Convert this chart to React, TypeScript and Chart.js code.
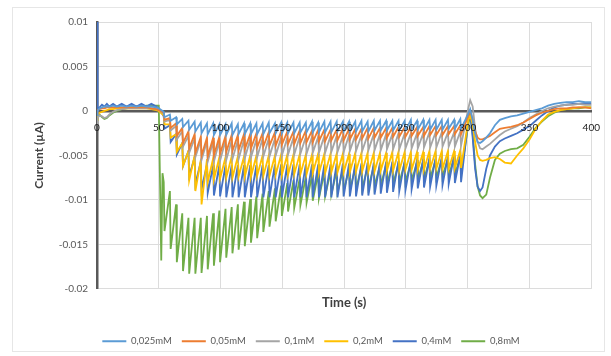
import React, { useEffect, useRef } from 'react';
import { Chart, registerables } from 'chart.js';

Chart.register(...registerables);

// ---- labels & styling constants ----
const seriesNames = ['0,025mM', '0,05mM', '0,1mM', '0,2mM', '0,4mM', '0,8mM'];
const seriesColors = ['#5B9BD5', '#ED7D31', '#A5A5A5', '#FFC000', '#4472C4', '#70AD47'];

const xTicks = [0, 50, 100, 150, 200, 250, 300, 350, 400];
const xTickLabels = ['0', '50', '100', '150', '200', '250', '300', '350', '400'];
const yTicks = [0.01, 0.005, 0, -0.005, -0.01, -0.015, -0.02];
const yTickLabels = ['0.01', '0.005', '0', '-0.005', '-0.01', '-0.015', '-0.02'];

// values below are in nA (1 nA = 0.001 µA)
const NA_TO_UA = 0.001;

// ---- 0 – 50 s (before the pulses) ----
const preTimes = [0, 0.5, 2, 4, 6, 8, 10, 13, 16, 20, 24, 28, 32, 36, 40, 44, 48, 50];
const pre025 = [-0.5, 0, 0.3, 0.4, 0.5, 0.5, 0.5, 0.6, 0.5, 0.6, 0.5, 0.6, 0.5, 0.6, 0.5, 0.5, 0.4, 0.3];
const pre05 = [-0.3, 0.1, 0.2, 0.3, 0.3, 0.4, 0.4, 0.4, 0.4, 0.4, 0.4, 0.4, 0.4, 0.4, 0.4, 0.3, 0.2, 0.1];
const pre1 = [-1.5, -0.8, -0.5, -0.6, -0.8, -0.7, -0.4, -0.1, 0.1, 0.2, 0.3, 0.3, 0.3, 0.3, 0.3, 0.3, 0.2, 0.1];
const pre2 = [-1.0, -0.4, -0.2, -0.1, 0, 0.1, 0.2, 0.2, 0.3, 0.3, 0.3, 0.3, 0.3, 0.3, 0.3, 0.2, 0.1, 0];
const pre4 = [10, 0, 0.4, 0.7, 0.5, 0.8, 0.5, 0.8, 0.5, 0.8, 0.5, 0.8, 0.5, 0.8, 0.5, 0.8, 0.5, 0.3];
const pre8 = [-1.0, -0.6, -0.4, -0.7, -0.9, -0.8, -0.5, -0.2, 0, 0.2, 0.3, 0.4, 0.5, 0.5, 0.6, 0.6, 0.6, 0.6];

// 0,8mM initial spike
const spike8Times = [52, 53];
const spike8 = [-16.8, -7.0];

// ---- pulse train (peak then trough of each tooth) ----
const toothTimes = [54, 59, 64, 69, 74, 79, 84, 89, 94, 99, 104, 109, 114, 119, 124, 129, 134, 139, 144, 149,
  154, 159, 164, 169, 174, 179, 184, 189, 194, 199, 204, 209, 214, 219, 224, 229, 234, 239, 244, 249,
  254, 259, 264, 269, 274, 279, 284, 289, 294];
const TOOTH_DROP = 0.6;

const high025 = [-0.1, -0.4, -0.7, -0.9, -1.1, -1.2, -1.3, -1.4, -1.4, -1.5, -1.5, -1.4, -1.5, -1.4, -1.4, -1.4, -1.4, -1.3, -1.4, -1.3,
  -1.3, -1.3, -1.3, -1.3, -1.2, -1.3, -1.2, -1.2, -1.2, -1.2, -1.2, -1.2, -1.1, -1.2, -1.1, -1.1, -1.1, -1.1, -1.1, -1.1,
  -1.0, -1.1, -1.0, -1.0, -1.0, -1.0, -1.0, -1.0, -0.9];
const low025 = [-0.7, -1.1, -1.5, -1.8, -2.1, -2.3, -2.5, -2.6, -2.7, -2.7, -2.7, -2.7, -2.6, -2.6, -2.6, -2.6, -2.6, -2.5, -2.5, -2.5,
  -2.5, -2.5, -2.4, -2.4, -2.4, -2.4, -2.4, -2.4, -2.3, -2.3, -2.3, -2.3, -2.3, -2.3, -2.2, -2.2, -2.2, -2.2, -2.2, -2.2,
  -2.1, -2.1, -2.1, -2.1, -2.1, -2.1, -2.0, -2.0, -2.0];

const high05 = [-0.2, -0.8, -1.4, -1.9, -2.3, -2.6, -2.9, -3.0, -3.0, -2.9, -2.8, -2.7, -2.7, -2.6, -2.6, -2.5, -2.5, -2.4, -2.4, -2.3,
  -2.3, -2.3, -2.2, -2.2, -2.2, -2.1, -2.1, -2.1, -2.1, -2.0, -2.0, -2.0, -2.0, -1.9, -1.9, -1.9, -1.9, -1.9, -1.8, -1.8,
  -1.8, -1.8, -1.8, -1.7, -1.7, -1.7, -1.7, -1.7, -1.6];
const low05 = [-1.0, -1.9, -2.8, -3.6, -4.2, -4.7, -5.0, -5.1, -5.0, -4.8, -4.6, -4.5, -4.4, -4.3, -4.2, -4.1, -4.0, -3.9, -3.9, -3.8,
  -3.7, -3.7, -3.6, -3.5, -3.5, -3.4, -3.4, -3.3, -3.3, -3.3, -3.2, -3.2, -3.1, -3.1, -3.0, -3.0, -3.0, -2.9, -2.9, -2.9,
  -2.8, -2.8, -2.8, -2.7, -2.7, -2.7, -2.6, -2.6, -2.6];

const high1 = [-0.3, -1.0, -1.7, -2.3, -2.8, -3.1, -3.3, -3.4, -3.4, -3.4, -3.3, -3.3, -3.3, -3.2, -3.2, -3.2, -3.1, -3.1, -3.1, -3.0,
  -3.0, -3.0, -2.9, -2.9, -2.9, -2.9, -2.8, -2.8, -2.8, -2.8, -2.7, -2.7, -2.7, -2.7, -2.6, -2.6, -2.6, -2.6, -2.5, -2.5,
  -2.5, -2.5, -2.5, -2.4, -2.4, -2.4, -2.4, -2.4, -2.3];
const low1 = [-1.2, -2.2, -3.2, -4.0, -4.7, -5.2, -5.5, -5.7, -5.7, -5.6, -5.5, -5.4, -5.4, -5.3, -5.2, -5.2, -5.1, -5.1, -5.0, -5.0,
  -4.9, -4.9, -4.8, -4.8, -4.7, -4.7, -4.7, -4.6, -4.6, -4.6, -4.5, -4.5, -4.5, -4.4, -4.4, -4.4, -4.3, -4.3, -4.3, -4.2,
  -4.2, -4.2, -4.1, -4.1, -4.1, -4.0, -4.0, -4.0, -3.9];

const high2 = [-0.5, -1.5, -2.6, -3.6, -4.5, -5.0, -5.5, -5.4, -5.3, -5.2, -5.2, -5.1, -5.1, -5.1, -5.0, -5.0, -5.0, -5.0, -5.0, -4.9,
  -4.9, -4.9, -4.9, -4.9, -4.9, -4.8, -4.8, -4.8, -4.8, -4.8, -4.8, -4.7, -4.7, -4.7, -4.7, -4.7, -4.7, -4.6, -4.6, -4.6,
  -4.6, -4.6, -4.6, -4.5, -4.5, -4.5, -4.5, -4.5, -4.4];
const low2 = [-1.5, -3.0, -4.6, -6.2, -7.8, -9.0, -10.5, -8.0, -7.7, -7.6, -7.5, -7.5, -7.4, -7.4, -7.4, -7.3, -7.3, -7.3, -7.2, -7.2,
  -7.2, -7.1, -7.1, -7.1, -7.0, -7.0, -7.0, -6.9, -6.9, -6.9, -6.9, -6.8, -6.8, -6.8, -6.8, -6.7, -6.7, -6.7, -6.7, -6.6,
  -6.6, -6.6, -6.6, -6.5, -6.5, -6.5, -6.5, -6.4, -6.4];

const high4 = [-0.6, -1.6, -2.6, -3.6, -4.5, -5.2, -5.7, -6.0, -6.1, -6.1, -6.1, -6.1, -6.1, -6.1, -6.1, -6.1, -6.1, -6.1, -6.0, -6.0,
  -6.0, -6.0, -6.0, -6.0, -6.0, -6.0, -6.0, -6.0, -5.9, -5.9, -5.9, -5.9, -5.9, -5.8, -5.8, -5.8, -5.7, -5.7, -5.6, -5.6,
  -5.5, -5.5, -5.4, -5.3, -5.3, -5.2, -5.1, -5.0, -4.9];
const low4 = [-2.0, -3.5, -4.9, -6.2, -7.3, -8.2, -8.8, -9.2, -9.5, -9.6, -9.7, -9.7, -9.7, -9.7, -9.7, -9.7, -9.7, -9.7, -9.7, -9.7,
  -9.7, -9.7, -9.7, -9.7, -9.7, -9.7, -9.7, -9.7, -9.7, -9.6, -9.6, -9.6, -9.5, -9.5, -9.4, -9.3, -9.2, -9.1, -9.0, -8.9,
  -8.8, -8.7, -8.6, -8.5, -8.4, -8.3, -8.2, -8.1, -8.0];

const high8 = [-8.0, -9.0, -10.5, -11.5, -12.0, -12.0, -12.0, -11.8, -11.5, -11.2, -11.0, -10.8, -10.5, -10.2, -9.9, -9.6, -9.3, -9.0, -8.7, -8.4,
  -8.1, -7.8, -7.6, -7.4, -7.2, -7.0, -6.9, -6.8, -6.7, -6.6, -6.5, -6.4, -6.3, -6.3, -6.2, -6.1, -6.0, -6.0, -5.9, -5.8,
  -5.8, -5.7, -5.6, -5.5, -5.5, -5.4, -5.3, -5.2, -5.1];
const low8 = [-13.5, -15.5, -17.0, -18.0, -18.3, -18.3, -18.2, -17.8, -17.4, -17.0, -16.5, -16.0, -15.6, -15.2, -14.8, -14.3, -13.6, -13.0, -12.4, -11.8,
  -11.3, -10.9, -10.6, -10.3, -10.1, -9.8, -9.6, -9.4, -9.2, -9.0, -8.9, -8.8, -8.7, -8.6, -8.5, -8.4, -8.3, -8.2, -8.1, -8.0,
  -7.9, -7.8, -7.7, -7.6, -7.5, -7.4, -7.3, -7.2, -7.0];

// ---- 300 – 400 s (after the pulses) ----
const postTimes = [300.5, 302, 304, 306, 308, 310, 312, 315, 318, 322, 326, 330, 335, 340, 345, 350, 355, 360, 365, 370, 375, 380, 385, 390, 395, 400];
const post025 = [-0.3, 0.2, -1.0, -2.5, -3.5, -3.6, -3.4, -3.0, -2.5, -1.6, -1.0, -0.8, -0.6, -0.5, -0.3, -0.1, 0.1, 0.3, 0.6, 0.8, 0.9, 1.0, 1.0, 1.1, 1.0, 1.0];
const post05 = [-0.5, 0, -1.0, -2.3, -3.0, -3.2, -3.2, -3.0, -2.8, -2.4, -2.0, -1.9, -1.8, -1.6, -1.3, -0.9, -0.5, -0.2, 0, 0.2, 0.3, 0.3, 0.4, 0.4, 0.4, 0.3];
const post1 = [0.3, 1.2, 0.5, -2.0, -3.5, -4.2, -4.3, -4.0, -3.7, -3.2, -2.7, -2.3, -2.0, -1.7, -1.3, -0.8, -0.4, 0, 0.3, 0.5, 0.6, 0.7, 0.7, 0.8, 0.7, 0.7];
const post2 = [-1.0, -0.5, -1.5, -3.5, -5.0, -5.5, -5.6, -5.5, -5.3, -5.2, -5.4, -5.8, -5.9, -5.0, -4.2, -3.2, -2.0, -1.1, -0.4, -0.1, 0.1, 0.2, 0.3, 0.4, 0.4, 0.4];
const post4 = [-1.0, -0.3, -3.0, -6.5, -8.5, -9.0, -8.6, -6.5, -5.0, -4.0, -3.4, -3.1, -2.8, -2.5, -2.1, -1.7, -1.1, -0.5, 0, 0.4, 0.6, 0.7, 0.8, 0.8, 0.9, 0.8];
const post8 = [-1.5, -0.5, -2.5, -6.0, -8.5, -9.5, -9.8, -9.4, -7.5, -5.5, -4.8, -4.5, -4.3, -4.2, -3.8, -2.9, -1.9, -1.2, -0.6, -0.2, 0.1, 0.2, 0.3, 0.3, 0.4, 0.4];

type Pt = { x: number; y: number };

function buildPoints(pre: number[], highs: number[], lows: number[], post: number[], spikeT: number[] = [], spikeV: number[] = []): Pt[] {
  const pts: Pt[] = [];
  preTimes.forEach((t, i) => pts.push({ x: t, y: pre[i] * NA_TO_UA }));
  spikeT.forEach((t, i) => pts.push({ x: t, y: spikeV[i] * NA_TO_UA }));
  toothTimes.forEach((t, i) => {
    pts.push({ x: t, y: highs[i] * NA_TO_UA });
    pts.push({ x: t + TOOTH_DROP, y: lows[i] * NA_TO_UA });
  });
  postTimes.forEach((t, i) => pts.push({ x: t, y: post[i] * NA_TO_UA }));
  return pts;
}

const FONT = 'Lato, "Open Sans", "Liberation Sans", sans-serif';

export default function App() {
  const canvasRef = useRef<HTMLCanvasElement | null>(null);

  useEffect(() => {
    if (!canvasRef.current) return;
    const seriesPoints = [
      buildPoints(pre025, high025, low025, post025),
      buildPoints(pre05, high05, low05, post05),
      buildPoints(pre1, high1, low1, post1),
      buildPoints(pre2, high2, low2, post2),
      buildPoints(pre4, high4, low4, post4),
      buildPoints(pre8, high8, low8, post8, spike8Times, spike8),
    ];
    const chart = new Chart(canvasRef.current, {
      type: 'line',
      data: {
        datasets: seriesNames.map((name, i) => ({
          label: name,
          data: seriesPoints[i],
          borderColor: seriesColors[i],
          backgroundColor: seriesColors[i],
          borderWidth: 1.8,
          pointRadius: 0,
          tension: 0,
          fill: false,
          xAxisID: 'x',
          yAxisID: 'y',
        })),
      },
      options: {
        responsive: false,
        animation: false,
        layout: { padding: { left: 28, right: 17, top: 22, bottom: 0 } },
        scales: {
          x: {
            type: 'linear',
            axis: 'x',
            min: 0,
            max: 400,
            position: { y: 0 } as any,
            afterBuildTicks: (axis: any) => { axis.ticks = xTicks.map((v) => ({ value: v })); },
            ticks: {
              z: 1,
              color: '#1A1A1A',
              font: { size: 10, family: FONT },
              padding: 11,
              maxRotation: 0,
              autoSkip: false,
              callback: (v: any) => {
                const i = xTicks.indexOf(Number(v));
                return i >= 0 ? xTickLabels[i] : '';
              },
            },
            grid: { color: '#DCDCDC', lineWidth: 1, drawTicks: false },
            border: { display: true, color: '#595959', width: 2.5 },
          },
          y: {
            type: 'linear',
            min: -0.02,
            max: 0.01,
            afterBuildTicks: (axis: any) => { axis.ticks = yTicks.map((v) => ({ value: v })); },
            afterFit: (s: any) => { s.width = 69; },
            ticks: {
              color: '#595959',
              font: { size: 10, family: FONT },
              padding: 9,
              autoSkip: false,
              callback: (v: any) => {
                let best = 0;
                yTicks.forEach((t, i) => { if (Math.abs(t - Number(v)) < Math.abs(yTicks[best] - Number(v))) best = i; });
                return yTickLabels[best];
              },
            },
            grid: { color: '#DCDCDC', lineWidth: 1, drawTicks: false },
            border: { display: true, color: '#595959', width: 2.5 },
            title: {
              display: true,
              text: 'Current (µA)',
              color: '#404040',
              font: { size: 12, weight: 'bold', family: FONT },
              padding: { top: 4, bottom: 4 },
            },
          },
        },
        plugins: {
          legend: {
            display: true,
            position: 'bottom',
            labels: {
              usePointStyle: true,
              pointStyle: 'line',
              pointStyleWidth: 24,
              color: '#595959',
              font: { size: 9.5, family: FONT },
              padding: 10,
            },
          },
          title: {
            display: true,
            text: 'Time (s)',
            position: 'bottom',
            fullSize: false,
            weight: 100,
            color: '#404040',
            font: { size: 13, weight: 'bold', family: FONT },
            padding: { top: 6, bottom: 16 },
          },
          tooltip: { enabled: false },
        },
      } as any,
    });
    return () => chart.destroy();
  }, []);

  return (
    <div style={{ position: 'absolute', left: 0, top: 0, width: 611, height: 356, background: '#ffffff' }}>
      <div style={{ position: 'absolute', left: 12, top: 7, width: 593, height: 345, border: '1px solid #E6E6E6', boxSizing: 'border-box' }} />
      <canvas ref={canvasRef} width={611} height={356} style={{ position: 'absolute', left: 0, top: 0, width: 611, height: 356 }} />
    </div>
  );
}
